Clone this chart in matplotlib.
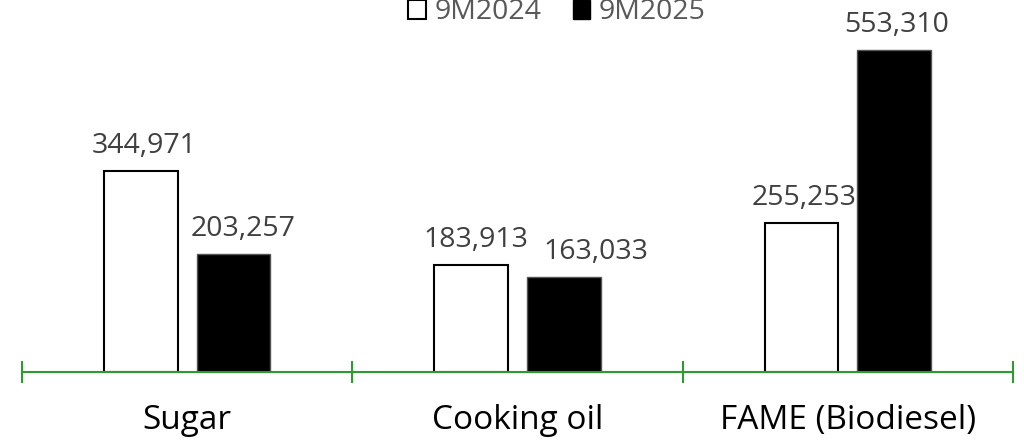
import matplotlib
matplotlib.use("Agg")
import matplotlib.pyplot as plt
from matplotlib.patches import Patch

categories = ["Sugar", "Cooking oil", "FAME (Biodiesel)"]
series_names = ["9M2024", "9M2025"]
values_2024 = [344971, 183913, 255253]
values_2025 = [203257, 163033, 553310]

# horizontal nudges (points) for value labels, keeps neighbours apart
nudge_2024 = [2, 3, 2]
nudge_2025 = [7, 23, 2]

FONT = ["Open Sans", "DejaVu Sans"]
GREEN = "#2f9a2f"
LABEL_GREY = "#404040"

fig = plt.figure(figsize=(10.24, 4.41), dpi=100)
ax = fig.add_axes([22 / 1024, 69 / 441, (1013 - 22) / 1024, 372 / 441])

x = list(range(len(categories)))
width = 0.223
offset = 0.14

bars_a = ax.bar([i - offset for i in x], values_2024, width,
                color="white", edgecolor="black", linewidth=1.5, zorder=2)
bars_b = ax.bar([i + offset for i in x], values_2025, width,
                color="black", edgecolor="#555555", linewidth=1.0, zorder=2)

for bars, vals, nudges in ((bars_a, values_2024, nudge_2024),
                           (bars_b, values_2025, nudge_2025)):
    for b, v, dx in zip(bars, vals, nudges):
        ax.annotate(f"{v:,}", (b.get_x() + b.get_width() / 2, v),
                    xytext=(dx, 8), textcoords="offset points",
                    ha="center", va="bottom", fontsize=20.5,
                    color=LABEL_GREY, family=FONT)

ax.set_xlim(-0.5, 2.5)
ax.set_ylim(0, 639000)

for side in ("top", "right", "left"):
    ax.spines[side].set_visible(False)
ax.spines["bottom"].set_color(GREEN)
ax.spines["bottom"].set_linewidth(1.5)
ax.spines["bottom"].set_zorder(3)
ax.set_yticks([])

ax.set_xticks(x)
ax.set_xticklabels(categories, fontsize=24, family=FONT, color="black")
ax.tick_params(axis="x", which="major", length=0, pad=23)
ax.set_xticks([-0.5, 0.5, 1.5, 2.5], minor=True)
ax.tick_params(axis="x", which="minor", direction="inout", length=16,
               width=1.5, color=GREEN)

handles = [Patch(facecolor="white", edgecolor="black", linewidth=1.5),
           Patch(facecolor="black", edgecolor="black")]
leg = fig.legend(handles, series_names, loc="center",
                 bbox_to_anchor=(0.544, 0.972), ncol=2, frameon=False,
                 handlelength=0.62, handleheight=0.62, handletextpad=0.3,
                 columnspacing=1.1, prop={"family": FONT, "size": 20.5})
for t in leg.get_texts():
    t.set_color("#595959")

fig.savefig("out.png", dpi=100)
